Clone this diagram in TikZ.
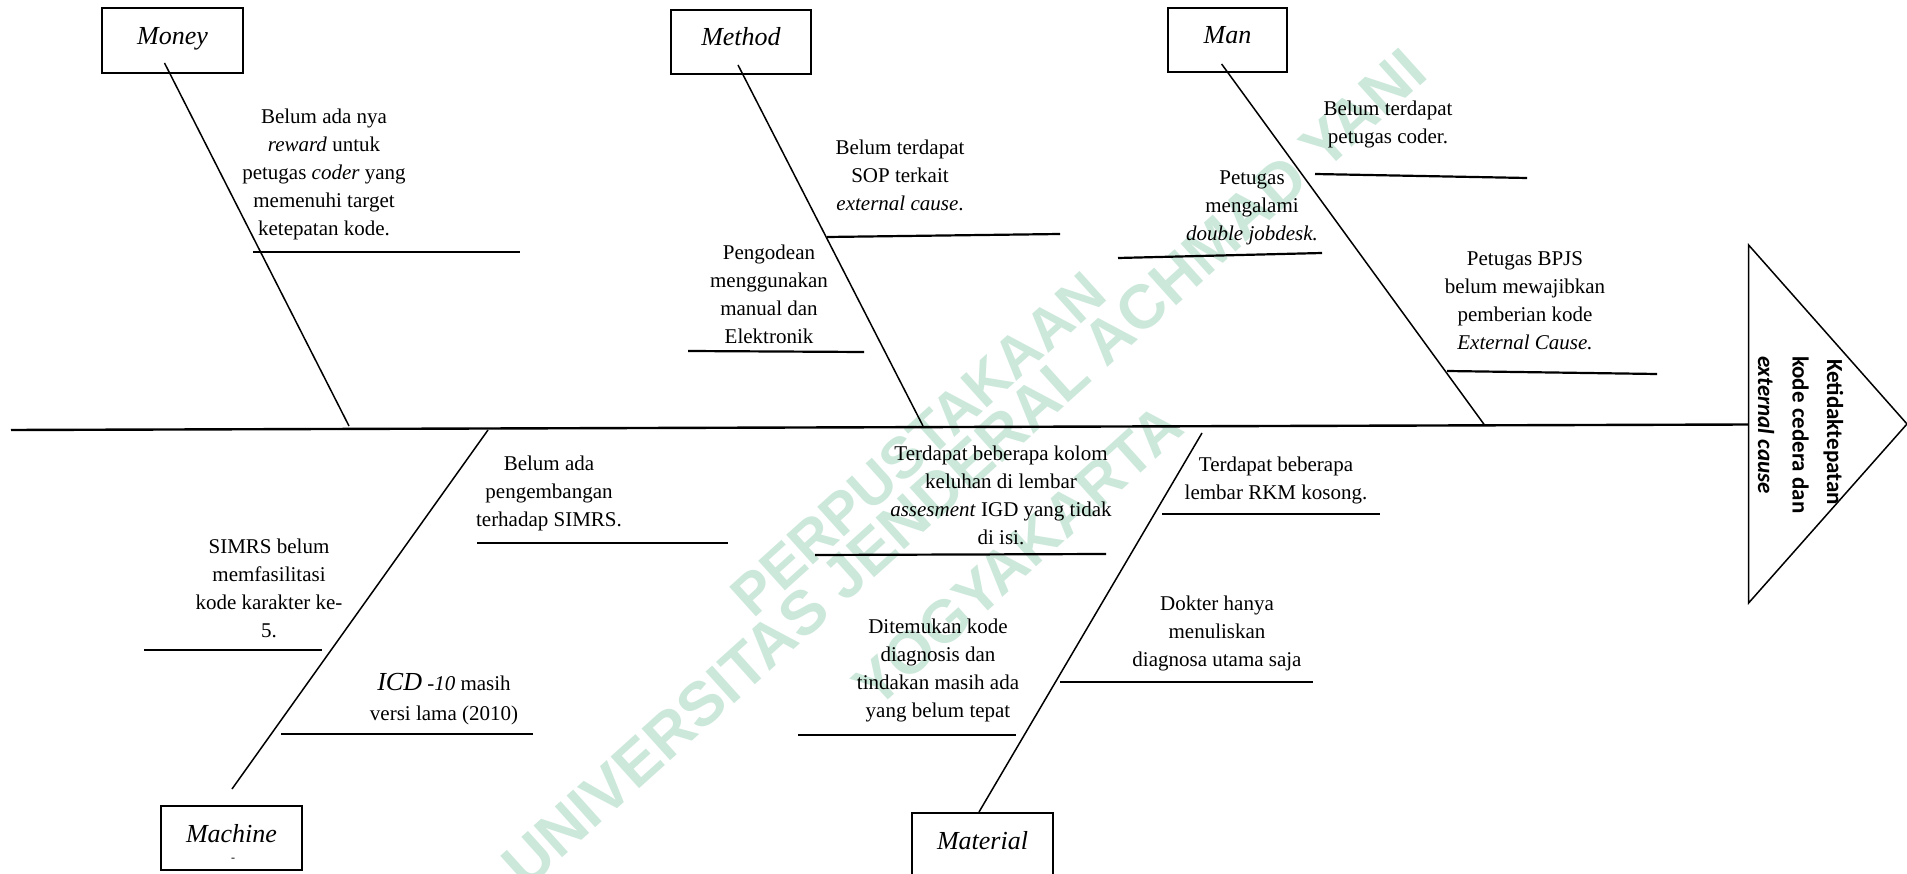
\documentclass[tikz,border=0pt]{standalone}
\usepackage{fontspec}
\setmainfont{Liberation Serif}
\newfontfamily\headfont{Carlito}
\newfontfamily\wmfont{Liberation Sans}
\definecolor{wmgreen}{RGB}{204,232,218}
\begin{document}
\begin{tikzpicture}[x=1pt,y=-1pt,
  box/.style={draw, line width=2pt, minimum height=64.5pt, inner sep=0pt,
    font=\fontsize{26}{30}\selectfont\itshape, text height=18pt, text depth=10pt},
  cause/.style={align=center, inner sep=0pt, anchor=north,
    font=\fontsize{21}{28}\selectfont, execute at begin node=\strut},
  bone/.style={line width=1.5pt},
  rib/.style={line width=2.2pt},
  spine/.style={line width=2.4pt},
  headline/.style={line width=1.5pt, line join=miter},
  headtext/.style={rotate=-90, anchor=base west, inner sep=0pt,
    font=\headfont\bfseries\fontsize{23}{28}\selectfont},
  wm/.style={text=wmgreen, rotate=42, inner sep=0pt,
    font=\wmfont\bfseries\fontsize{#1}{#1}\selectfont}
]
\useasboundingbox (0,0) rectangle (1907,874);

% watermark
\node[wm=58] (wm1) at (918,444) {PERPUSTAKAAN};
\node[wm=62] (wm2) at (964,468) {UNIVERSITAS JENDERAL ACHMAD YANI};
\node[wm=60] (wm3) at (1018,556) {YOGYAKARTA};

% head
\coordinate (hN) at (1748.6,245);
\coordinate (hE) at (1907,424);
\coordinate (hS) at (1748.6,603);
\coordinate (hW) at (1748.6,424.5);
\coordinate (tail) at (11,430);
\draw[headline] (hN) -- (hE) -- (hS) -- cycle;
\draw[spine] (tail) -- (hW);
\node[headtext] (h1) at (1827,359) {Ketidaktepatan};
\node[headtext] (h2) at (1792.5,356) {kode cedera dan};
\node[headtext] (h3) at (1758,356) {\itshape external cause};

% category boxes
\node[box, minimum width=141pt] (money) at (172.5,40.5) {Money};
\node[box, minimum width=140pt] (method) at (741,42) {Method};
\node[box, minimum width=119pt] (man) at (1227.5,40) {Man};
\node[box, minimum width=141pt] (machine) at (231.5,838) {Machine};
\node[font=\fontsize{12}{12}\selectfont, inner sep=0pt] (machdash) at (233,860) {-};
\node[box, minimum width=141pt, minimum height=65pt] (material) at (982.5,845.5) {Material};

% bones
\coordinate (moneyT) at (164.5,63);   \coordinate (moneyB) at (349,426);
\coordinate (methodT) at (738,65);    \coordinate (methodB) at (923,426);
\coordinate (manT) at (1221.6,64);    \coordinate (manB) at (1484.5,425);
\coordinate (machT) at (488,430);     \coordinate (machB) at (232,789);
\coordinate (matT) at (1202,433);     \coordinate (matB) at (979,812);
\draw[bone] (moneyT) -- (moneyB);
\draw[bone] (methodT) -- (methodB);
\draw[bone] (manT) -- (manB);
\draw[bone] (machT) -- (machB);
\draw[bone] (matT) -- (matB);

% ribs
\coordinate (r1a) at (253,252);   \coordinate (r1b) at (520,252);
\coordinate (r2a) at (827,237);   \coordinate (r2b) at (1060,234);
\coordinate (r3a) at (688,351);   \coordinate (r3b) at (864,352);
\coordinate (r4a) at (1315,174);  \coordinate (r4b) at (1527,178);
\coordinate (r5a) at (1118,258);  \coordinate (r5b) at (1322,253);
\coordinate (r6a) at (1447,371);  \coordinate (r6b) at (1657,374);
\coordinate (r7a) at (477,543);   \coordinate (r7b) at (728,543);
\coordinate (r8a) at (144,650);   \coordinate (r8b) at (322,650);
\coordinate (r9a) at (281,734);   \coordinate (r9b) at (533,734);
\coordinate (r10a) at (815,555);  \coordinate (r10b) at (1106,554);
\coordinate (r11a) at (798,735);  \coordinate (r11b) at (1016,735);
\coordinate (r12a) at (1162,514); \coordinate (r12b) at (1380,514);
\coordinate (r13a) at (1060,682); \coordinate (r13b) at (1313,682);
\foreach \i in {1,...,13} { \draw[rib] (r\i a) -- (r\i b); }

% causes
\node[cause] (c1) at (324,109) {Belum ada nya\\\textit{reward} untuk\\petugas \textit{coder} yang\\memenuhi target\\ketepatan kode.};
\node[cause] (c2) at (900,140) {Belum terdapat\\SOP terkait\\\textit{external cause}.};
\node[cause] (c3) at (769,245) {Pengodean\\menggunakan\\manual dan\\Elektronik};
\node[cause] (c4) at (1388,101) {Belum terdapat\\petugas coder.};
\node[cause] (c5) at (1252,171) {Petugas\\mengalami\\\textit{double jobdesk.}};
\node[cause] (c6) at (1525,251) {Petugas BPJS\\belum mewajibkan\\pemberian kode\\\textit{External Cause.}};
\node[cause] (c7) at (549,456) {Belum ada\\pengembangan\\terhadap SIMRS.};
\node[cause] (c8) at (269,539) {SIMRS belum\\memfasilitasi\\kode karakter ke-\\5.};
\node[cause] (c9) at (444,673) {{\fontsize{26}{28}\selectfont\itshape ICD} \textit{-10} masih\\[2pt]versi lama (2010)};
\node[cause] (c10) at (1001,446) {Terdapat beberapa kolom\\keluhan di lembar\\\textit{assesment} IGD yang tidak\\di isi.};
\node[cause] (c11) at (938,619) {Ditemukan kode\\diagnosis dan\\tindakan masih ada\\yang belum tepat};
\node[cause] (c12) at (1276,457) {Terdapat beberapa\\lembar RKM kosong.};
\node[cause] (c13) at (1217,596) {Dokter hanya\\menuliskan\\diagnosa utama saja};
\end{tikzpicture}
\end{document}
